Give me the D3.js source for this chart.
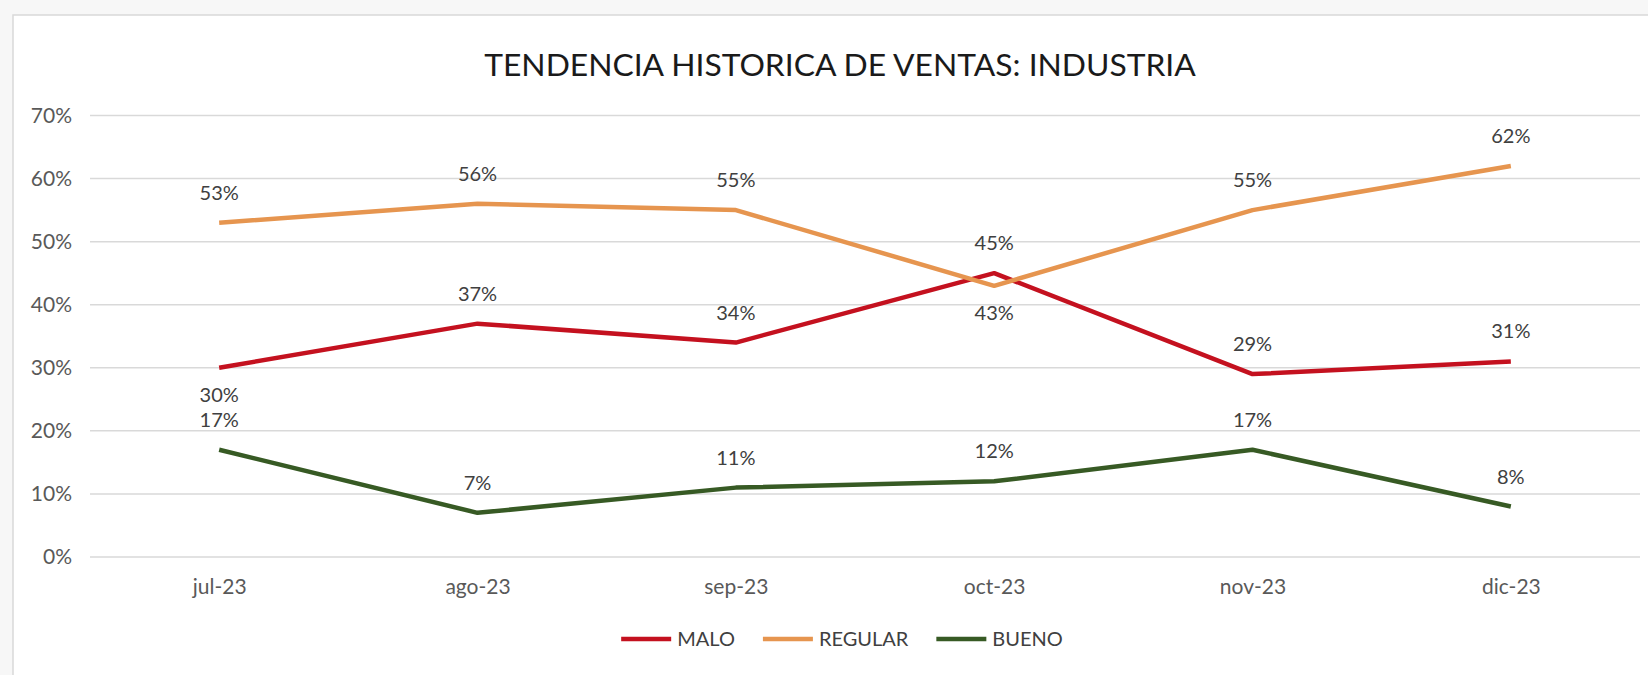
<!DOCTYPE html>
<html>
<head>
<meta charset="utf-8">
<script src="https://cdn.jsdelivr.net/npm/d3@7"></script>
<style>
  html, body { margin: 0; padding: 0; background: #f7f7f7; }
  svg { display: block; font-family: Lato, "Open Sans", sans-serif; }
</style>
</head>
<body>
<svg id="chart" width="1648" height="675"></svg>
<script>
const months = ['jul-23', 'ago-23', 'sep-23', 'oct-23', 'nov-23', 'dic-23']
const malo = [0.30, 0.37, 0.34, 0.45, 0.29, 0.31]
const regular = [0.53, 0.56, 0.55, 0.43, 0.55, 0.62]
const bueno = [0.17, 0.07, 0.11, 0.12, 0.17, 0.08]
const yTicks = [0, 0.1, 0.2, 0.3, 0.4, 0.5, 0.6, 0.7]
// which labels go under the point
const maloBelow = [true, false, false, false, false, false]
const regularBelow = [false, false, false, true, false, false]
const buenoBelow = [false, false, false, false, false, false]

const series = [
  { name: 'MALO', values: malo, below: maloBelow, color: '#c4111f' },
  { name: 'REGULAR', values: regular, below: regularBelow, color: '#e6954f' },
  { name: 'BUENO', values: bueno, below: buenoBelow, color: '#375a24' }
]

const svg = d3.select('#chart')

// chart frame
svg.append('rect')
  .attr('x', 13).attr('y', 15)
  .attr('width', 1700).attr('height', 700)
  .attr('fill', '#fff')
  .attr('stroke', '#d9d9d9')
  .attr('stroke-width', 1.5)

const x = d3.scalePoint().domain(months).range([90, 1640]).padding(0.5)
const y = d3.scaleLinear().domain([0, 0.7]).range([557, 115.5])

// gridlines
svg.append('g')
  .selectAll('line')
  .data(yTicks)
  .join('line')
  .attr('x1', 90).attr('x2', 1640)
  .attr('y1', d => y(d)).attr('y2', d => y(d))
  .attr('stroke', '#d9d9d9')
  .attr('stroke-width', 1.5)

// y axis
const yAxis = svg.append('g')
  .attr('transform', 'translate(72,0)')
  .call(d3.axisLeft(y).tickValues(yTicks).tickFormat(d3.format('.0%')).tickSize(0).tickPadding(0))
yAxis.select('.domain').remove()
yAxis.selectAll('text')
  .attr('font-family', 'Lato, sans-serif')
  .attr('font-size', 21)
  .attr('fill', '#595959')

// x axis
const xAxis = svg.append('g')
  .attr('transform', 'translate(0,557)')
  .call(d3.axisBottom(x).tickSize(0).tickPadding(22))
xAxis.select('.domain').remove()
xAxis.selectAll('text')
  .attr('font-family', 'Lato, sans-serif')
  .attr('font-size', 21)
  .attr('fill', '#595959')

// lines
const line = d3.line()
  .x((d, i) => x(months[i]))
  .y(d => y(d))

svg.append('g')
  .selectAll('path')
  .data(series)
  .join('path')
  .attr('d', d => line(d.values))
  .attr('fill', 'none')
  .attr('stroke', d => d.color)
  .attr('stroke-width', 4.5)
  .attr('stroke-linejoin', 'round')

// data labels
series.forEach(s => {
  svg.append('g')
    .selectAll('text')
    .data(s.values)
    .join('text')
    .attr('x', (d, i) => x(months[i]))
    .attr('y', (d, i) => y(d) + (s.below[i] ? 34 : -23))
    .attr('text-anchor', 'middle')
    .attr('font-size', 20)
    .attr('fill', '#404040')
    .text(d => d3.format('.0%')(d))
})

// title, fitted to the width it has in the picture
const title = svg.append('text')
  .attr('x', 840).attr('y', 76)
  .attr('text-anchor', 'middle')
  .attr('font-size', 36)
  .attr('fill', '#1a1a1a')
  .text('TENDENCIA HISTORICA DE VENTAS: INDUSTRIA')
const tw = title.node().getComputedTextLength()
title.attr('font-size', 36 * 712 / tw)

// legend
const legend = svg.append('g')
let lx = 0
const items = series.map(s => {
  const g = legend.append('g').attr('transform', `translate(${lx},0)`)
  g.append('line')
    .attr('x1', 0).attr('x2', 50)
    .attr('y1', 0).attr('y2', 0)
    .attr('stroke', s.color)
    .attr('stroke-width', 4.5)
  const t = g.append('text')
    .attr('x', 56).attr('y', 7)
    .attr('font-size', 20)
    .attr('fill', '#404040')
    .text(s.name)
  lx += 56 + t.node().getComputedTextLength() + 28
})
const lw = lx - 28
legend.attr('transform', `translate(${842 - lw / 2},639)`)
</script>
</body>
</html>
